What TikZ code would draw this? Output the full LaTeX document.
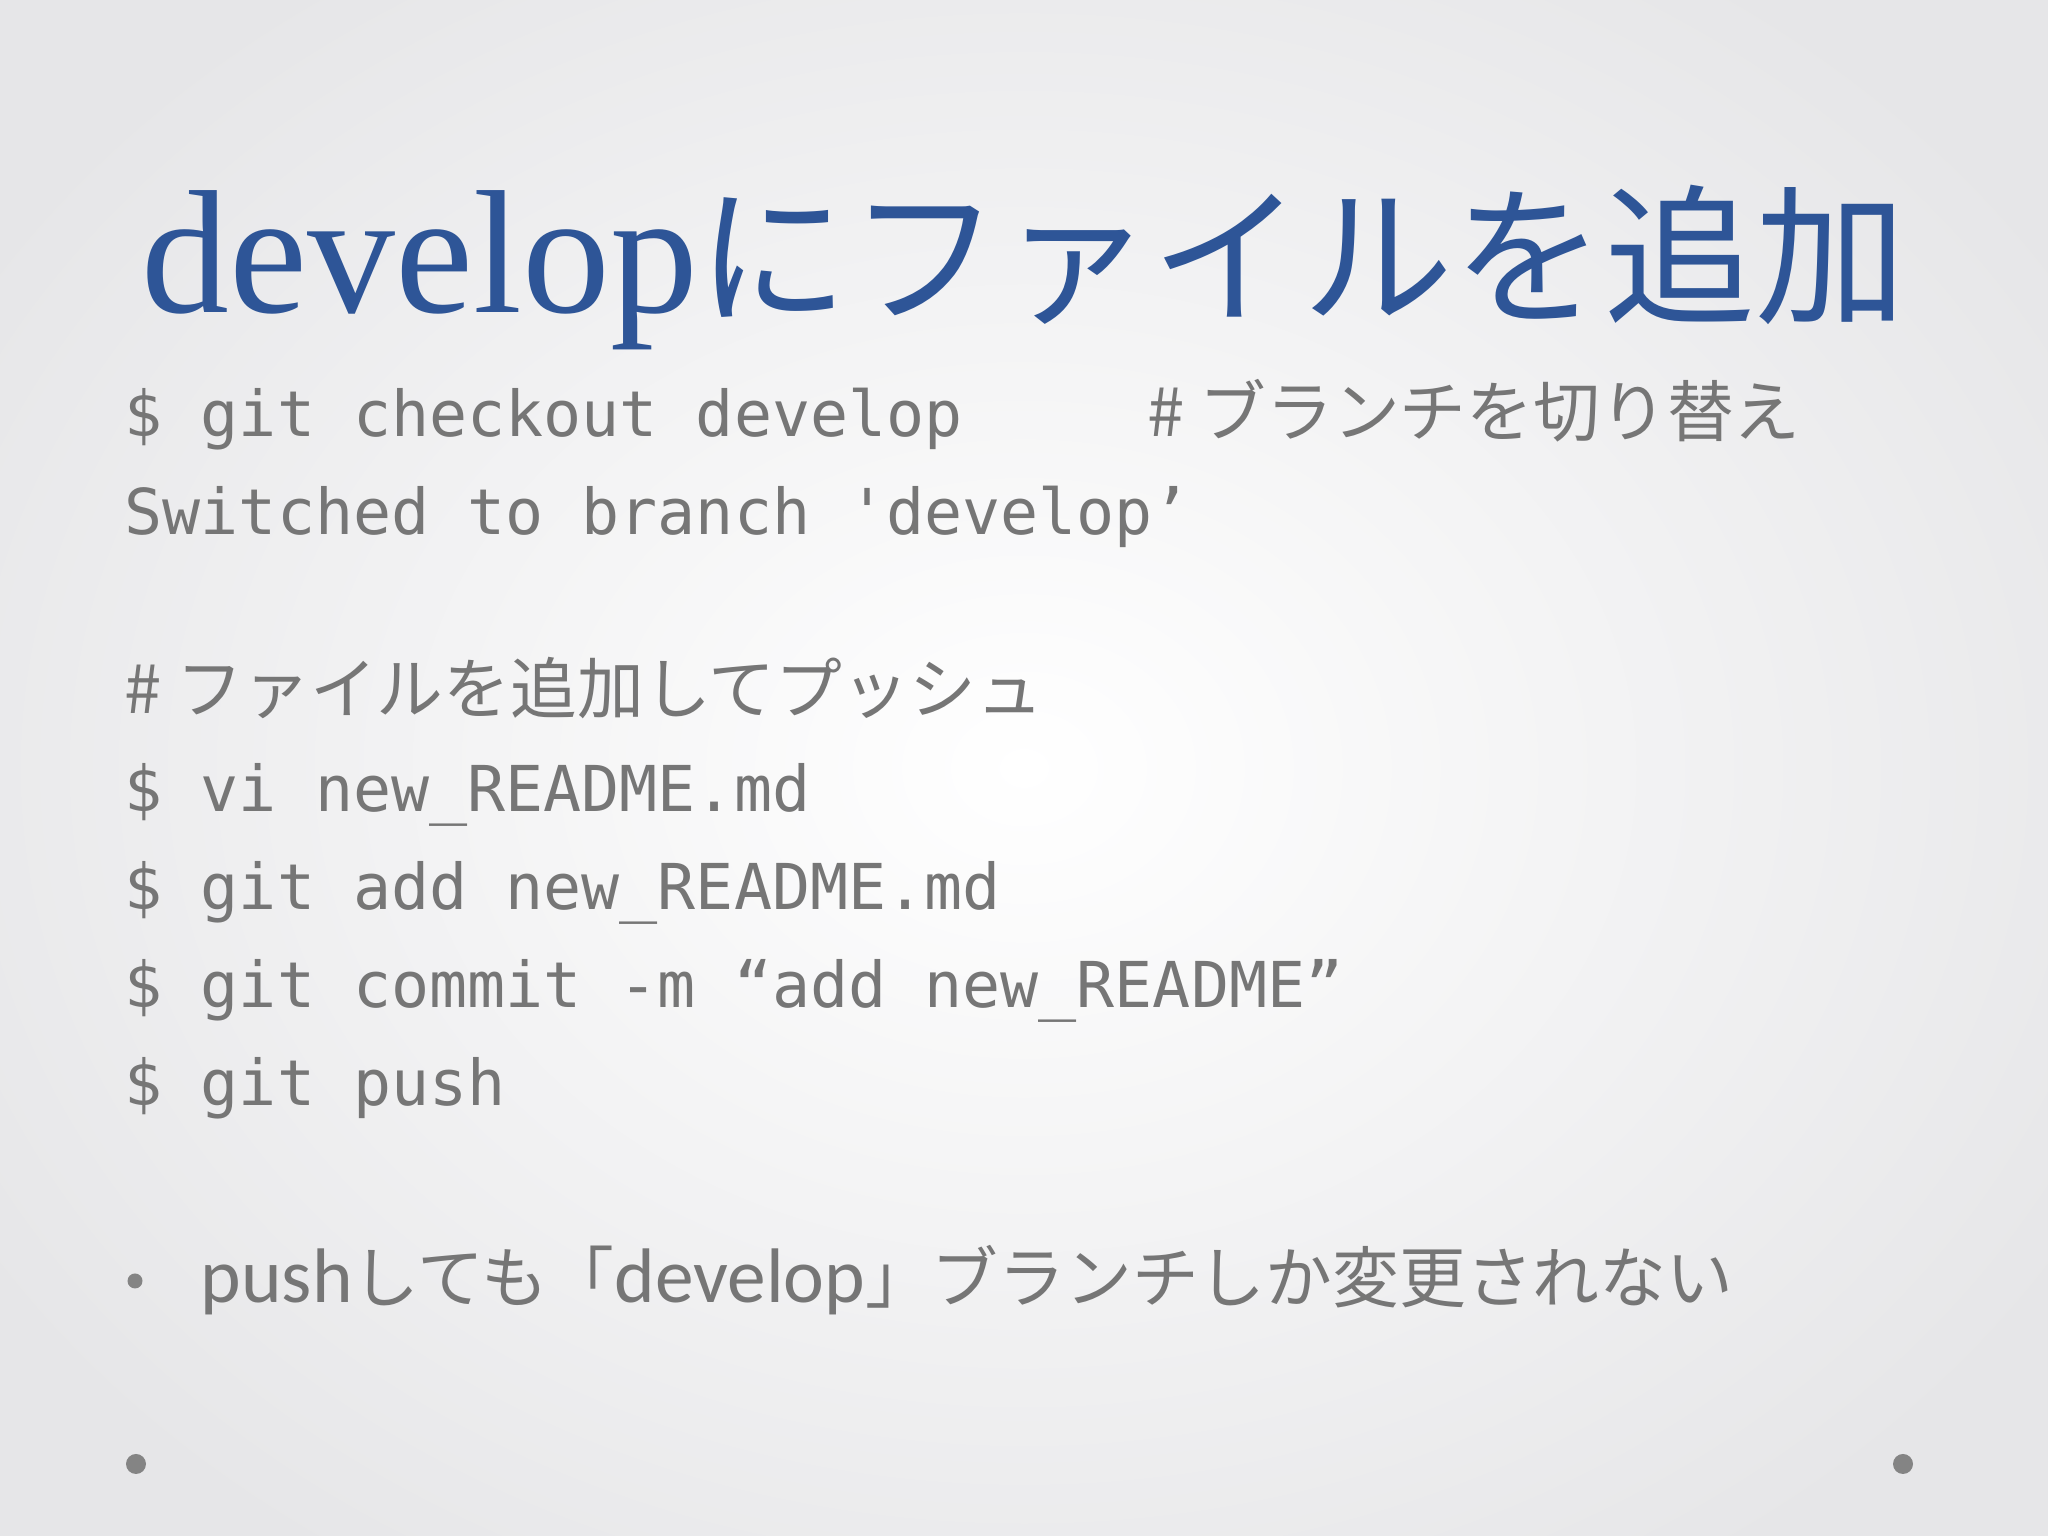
\documentclass[tikz,border=0pt]{standalone}
\usepackage{fontspec}
\setmainfont{Liberation Serif}
\newfontfamily\jp{Noto Sans CJK JP}
\newfontfamily\mono{DejaVu Sans Mono}
\newfontfamily\body{Carlito}
\definecolor{titleblue}{HTML}{2E5597}
\definecolor{txt}{HTML}{767676}
\definecolor{bgedge}{HTML}{E6E6E8}
\tikzset{
  line/.style={anchor=base west,inner sep=0pt,text=txt,font=\mono\fontsize{18}{24}\selectfont},
  jpline/.style={line,font=\jp\fontsize{19}{24}\selectfont},
  dot/.style={circle,fill=txt!90,inner sep=0pt,minimum size=0.2cm}
}
\begin{document}
\begin{tikzpicture}
\useasboundingbox (0,0) rectangle (20.48,15.36);
\shade[inner color=white,outer color=bgedge] (-2,-2) rectangle (22.48,17.36);
\node[anchor=base west,inner sep=0pt,text=titleblue] (title) at (1.41,12.23)
  {\fontsize{50}{54}\selectfont develop\jp\fontsize{43}{54}\selectfont にファイルを追加};
\node[line] (l1) at (1.24,10.99) {\$ git checkout develop};
\node[jpline] (c1) at (11.47,10.99) {\# ブランチを切り替え};
\node[line] (l2) at (1.24,10.01) {Switched to branch 'develop’};
\node[jpline] (c2) at (1.24,8.22) {\# ファイルを追加してプッシュ};
\node[line] (l3) at (1.24,7.24) {\$ vi new\_README.md};
\node[line] (l4) at (1.24,6.26) {\$ git add new\_README.md};
\node[line] (l5) at (1.24,5.28) {\$ git commit -m “add new\_README”};
\node[line] (l6) at (1.24,4.30) {\$ git push};
\node[dot,minimum size=0.15cm] (b) at (1.35,2.55) {};
\node[anchor=base west,inner sep=0pt,text=txt] (bt) at (2.0,2.33)
  {\body\fontsize{22}{26}\selectfont push\jp\fontsize{19}{26}\selectfont しても「{\body\fontsize{22}{26}\selectfont develop}」ブランチしか変更されない};
\node[dot] (d1) at (1.36,0.72) {};
\node[dot] (d2) at (19.03,0.72) {};
\end{tikzpicture}
\end{document}
